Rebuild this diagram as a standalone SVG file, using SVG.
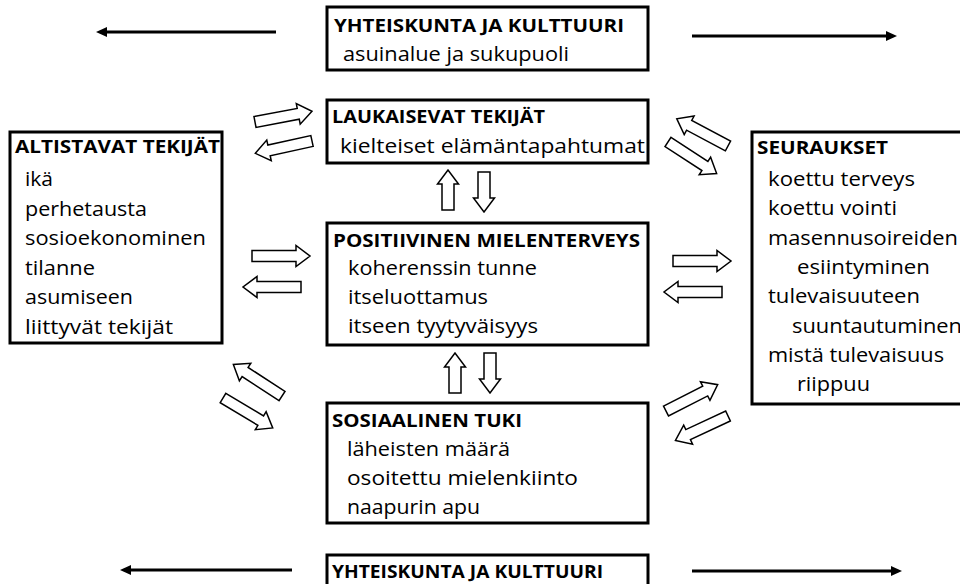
<svg xmlns="http://www.w3.org/2000/svg" xmlns:xlink="http://www.w3.org/1999/xlink" width="960" height="584" viewBox="0 0 960 584">
<style>
.box{fill:#fff;stroke:#000;stroke-width:3}
.t{font-family:"Open Sans","Noto Sans",sans-serif;font-size:20.5px;fill:#000}
.b{font-weight:bold;font-size:18px}
.ln{stroke:#000;stroke-width:3;fill:none}
.hd{fill:#000}
.blk{fill:#fff;stroke:#000;stroke-width:1.5;stroke-linejoin:miter}
</style>
<defs>
<polygon id="ba" points="0,-5.5 44,-5.5 44,-10.5 58,0 44,10.5 44,5.5 0,5.5"/>
<polygon id="bs" points="0,-6 26,-6 26,-10.5 40,0 26,10.5 26,6 0,6"/>
</defs>
<rect width="960" height="584" fill="#fff"/>

<g id="yhteiskunta-top">
<rect class="box" x="327" y="7" width="321" height="63"/>
<text class="t b" x="334" y="32" textLength="290" lengthAdjust="spacingAndGlyphs">YHTEISKUNTA JA KULTTUURI</text>
<text class="t" x="343" y="61" textLength="226" lengthAdjust="spacingAndGlyphs">asuinalue ja sukupuoli</text>
</g>

<g id="laukaisevat">
<rect class="box" x="327" y="100" width="321" height="63"/>
<text class="t b" x="332" y="123" textLength="213" lengthAdjust="spacingAndGlyphs">LAUKAISEVAT TEKIJÄT</text>
<text class="t" x="340" y="153" textLength="305" lengthAdjust="spacingAndGlyphs">kielteiset elämäntapahtumat</text>
</g>

<g id="altistavat">
<rect class="box" x="10" y="132" width="212" height="211"/>
<text class="t b" x="15" y="153" textLength="205" lengthAdjust="spacingAndGlyphs">ALTISTAVAT TEKIJÄT</text>
<text class="t" x="25" y="186" textLength="28" lengthAdjust="spacingAndGlyphs">ikä</text>
<text class="t" x="25" y="215.5" textLength="122" lengthAdjust="spacingAndGlyphs">perhetausta</text>
<text class="t" x="25" y="245" textLength="181" lengthAdjust="spacingAndGlyphs">sosioekonominen</text>
<text class="t" x="25" y="274.5" textLength="70" lengthAdjust="spacingAndGlyphs">tilanne</text>
<text class="t" x="25" y="304" textLength="108" lengthAdjust="spacingAndGlyphs">asumiseen</text>
<text class="t" x="25" y="333.5" textLength="148" lengthAdjust="spacingAndGlyphs">liittyvät tekijät</text>
</g>

<g id="positiivinen">
<rect class="box" x="327" y="223" width="321" height="122"/>
<text class="t b" x="333" y="247" textLength="307" lengthAdjust="spacingAndGlyphs">POSITIIVINEN MIELENTERVEYS</text>
<text class="t" x="348" y="275" textLength="189" lengthAdjust="spacingAndGlyphs">koherenssin tunne</text>
<text class="t" x="348" y="304" textLength="140" lengthAdjust="spacingAndGlyphs">itseluottamus</text>
<text class="t" x="348" y="333" textLength="190" lengthAdjust="spacingAndGlyphs">itseen tyytyväisyys</text>
</g>

<g id="seuraukset">
<rect class="box" x="752" y="132" width="220" height="272"/>
<text class="t b" x="757" y="154" textLength="131" lengthAdjust="spacingAndGlyphs">SEURAUKSET</text>
<text class="t" x="768" y="186" textLength="147" lengthAdjust="spacingAndGlyphs">koettu terveys</text>
<text class="t" x="768" y="215.3" textLength="129" lengthAdjust="spacingAndGlyphs">koettu vointi</text>
<text class="t" x="768" y="244.6" textLength="190" lengthAdjust="spacingAndGlyphs">masennusoireiden</text>
<text class="t" x="797" y="273.9" textLength="133" lengthAdjust="spacingAndGlyphs">esiintyminen</text>
<text class="t" x="768" y="303.2" textLength="152" lengthAdjust="spacingAndGlyphs">tulevaisuuteen</text>
<text class="t" x="792" y="332.5" textLength="170" lengthAdjust="spacingAndGlyphs">suuntautuminen</text>
<text class="t" x="768" y="361.8" textLength="176" lengthAdjust="spacingAndGlyphs">mistä tulevaisuus</text>
<text class="t" x="797" y="391.1" textLength="73" lengthAdjust="spacingAndGlyphs">riippuu</text>
</g>

<g id="sosiaalinen">
<rect class="box" x="327" y="403" width="321" height="120"/>
<text class="t b" x="332" y="427" textLength="190" lengthAdjust="spacingAndGlyphs">SOSIAALINEN TUKI</text>
<text class="t" x="347" y="456" textLength="163" lengthAdjust="spacingAndGlyphs">läheisten määrä</text>
<text class="t" x="347" y="485" textLength="231" lengthAdjust="spacingAndGlyphs">osoitettu mielenkiinto</text>
<text class="t" x="347" y="514" textLength="133" lengthAdjust="spacingAndGlyphs">naapurin apu</text>
</g>

<g id="yhteiskunta-bottom">
<rect class="box" x="327" y="555" width="321" height="60"/>
<text class="t b" x="332" y="578" textLength="271" lengthAdjust="spacingAndGlyphs">YHTEISKUNTA JA KULTTUURI</text>
</g>

<g id="connectors">
<line class="ln" x1="276" y1="32" x2="104" y2="32"/>
<polygon class="hd" points="96,32 107,27 107,37"/>
<line class="ln" x1="692" y1="36" x2="888" y2="36"/>
<polygon class="hd" points="897,36 886,31 886,41"/>
<line class="ln" x1="292" y1="570" x2="128" y2="570"/>
<polygon class="hd" points="120,570 131,565 131,575"/>
<line class="ln" x1="692" y1="571" x2="893" y2="571"/>
<polygon class="hd" points="902,571 891,566 891,576"/>

<use href="#ba" class="blk" transform="translate(255,122) rotate(-10.7)"/>
<use href="#ba" class="blk" transform="translate(312,141) rotate(167.7)"/>
<use href="#ba" class="blk" transform="translate(728,146) rotate(-152)"/>
<use href="#ba" class="blk" transform="translate(668,142) rotate(33)"/>
<use href="#ba" class="blk" transform="translate(252,256)"/>
<use href="#ba" class="blk" transform="translate(301,287) rotate(180)"/>
<use href="#ba" class="blk" transform="translate(673,261)"/>
<use href="#ba" class="blk" transform="translate(722,292) rotate(180)"/>
<use href="#ba" class="blk" transform="translate(282,396) rotate(-147)"/>
<use href="#ba" class="blk" transform="translate(223,398) rotate(31)"/>
<use href="#ba" class="blk" transform="translate(666,411) rotate(-27)"/>
<use href="#ba" class="blk" transform="translate(728,416) rotate(155)"/>

<use href="#bs" class="blk" transform="translate(448,210) rotate(-90)"/>
<use href="#bs" class="blk" transform="translate(484,172) rotate(90)"/>
<use href="#bs" class="blk" transform="translate(455,393) rotate(-90)"/>
<use href="#bs" class="blk" transform="translate(490,353) rotate(90)"/>
</g>
</svg>
